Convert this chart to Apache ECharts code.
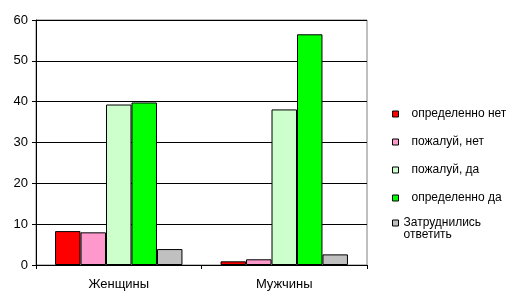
<!DOCTYPE html>
<html><head><meta charset="utf-8">
<script src="https://cdn.jsdelivr.net/npm/echarts@6/dist/echarts.min.js"></script>
<style>html,body{margin:0;padding:0;background:#fff}#c{width:528px;height:301px}</style>
</head><body><div id="c"></div>
<script>
const categories = ['Женщины', 'Мужчины'];
const seriesNames = ['определенно нет', 'пожалуй, нет', 'пожалуй, да', 'определенно да', 'Затруднились ответить'];
const defNo = [8.3, 0.9];
const maybeNo = [8.0, 1.4];
const maybeYes = [39.3, 38.1];
const defYes = [39.8, 56.5];
const unsure = [3.9, 2.6];
const yTicks = [0, 10, 20, 30, 40, 50, 60];
const colors = ['#FF0000', '#FF99CC', '#CCFFCC', '#00FF00', '#C0C0C0'];
const values = [defNo, maybeNo, maybeYes, defYes, unsure];

const chart = echarts.init(document.getElementById('c'), null, {renderer: 'canvas'});
const font = 'Liberation Sans, Arial, sans-serif';
chart.setOption({
  animation: false,
  grid: {left: 36, top: 20, right: 161, bottom: 36, show: true, borderColor: '#808080', borderWidth: 1, backgroundColor: 'transparent'},
  xAxis: {
    type: 'category', data: categories,
    axisLine: {lineStyle: {color: '#000', width: 1}},
    axisTick: {show: true, length: 4, lineStyle: {color: '#000'}, alignWithLabel: false},
    axisLabel: {color: '#000', fontFamily: font, fontSize: 13, margin: 13}
  },
  yAxis: {
    type: 'value', min: yTicks[0], max: yTicks[yTicks.length - 1], interval: 10,
    axisLine: {show: true, lineStyle: {color: '#000', width: 1}},
    axisTick: {show: true, length: 4, lineStyle: {color: '#000'}},
    axisLabel: {color: '#000', fontFamily: font, fontSize: 13, margin: 8},
    splitLine: {show: true, lineStyle: {color: '#000', width: 1}}
  },
  legend: [{
    orient: 'vertical', left: 392, top: 108, padding: 0, itemWidth: 6, itemHeight: 6, itemGap: 16,
    icon: 'rect', data: seriesNames.slice(0, 4),
    formatter: n => '{a|' + n + '}',
    textStyle: {color: '#000', fontFamily: font, fontSize: 12, rich: {a: {fontFamily: font, fontSize: 12, color: '#000', padding: [0, 0, 0, 8]}}},
    itemStyle: {borderColor: '#000', borderWidth: 1}
  }, {
    orient: 'vertical', left: 392, top: 205, padding: 0, itemWidth: 6, itemHeight: 6,
    icon: 'rect', data: [seriesNames[4]],
    formatter: () => '\nЗатруднились\nответить',
    textStyle: {color: '#000', fontFamily: font, fontSize: 12, lineHeight: 12},
    itemStyle: {borderColor: '#000', borderWidth: 1}
  }],
  series: seriesNames.map((name, i) => ({
    name, type: 'bar', data: values[i],
    barGap: '0%', barCategoryGap: '23%',
    itemStyle: {color: colors[i], borderColor: '#000', borderWidth: 1}
  }))
});
</script></body></html>
